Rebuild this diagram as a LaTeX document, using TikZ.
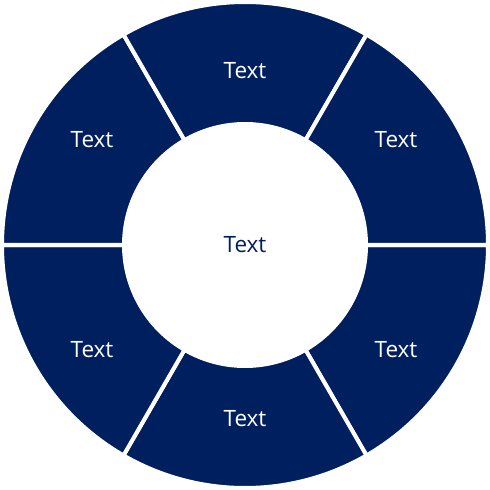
\documentclass[tikz,border=0pt]{standalone}
\usepackage{fontspec}
\setmainfont{Open Sans}
\usetikzlibrary{calc}
\usetikzlibrary{positioning}
\definecolor{ringNavy}{HTML}{001F5F}

\begin{document}
\begin{tikzpicture}[x=0.025cm,y=-0.025cm]
			\tikzstyle{segment}=[fill=ringNavy, draw=white, line width=0.1cm, line join=miter]
			\tikzstyle{label}=[text=white, font=\fontsize{16}{19}\selectfont]
			\useasboundingbox (0,0) rectangle (490,490);
			\coordinate (ringCentre) at (245,245);
			% six ring segments
			\foreach \a in {0,60,...,300} {
				\path[segment] ($(ringCentre)+(\a:243)$) arc[start angle=\a, end angle=\a+60, radius=243]
					-- ($(ringCentre)+(\a+60:121)$) arc[start angle=\a+60, end angle=\a, radius=121] -- cycle;
			}
			\node[label] at (245,71) (segmentTop) {Text};
			\node[label] at (396,140) (segmentTopRight) {Text};
			\node[label] at (92,140) (segmentTopLeft) {Text};
			\node[label] at (92,350) (segmentBottomLeft) {Text};
			\node[label] at (245,419) (segmentBottom) {Text};
			\node[label] at (396,350) (segmentBottomRight) {Text};
			\node[label, text=ringNavy] at (ringCentre) (centre) {Text};
		\end{tikzpicture}
\end{document}
